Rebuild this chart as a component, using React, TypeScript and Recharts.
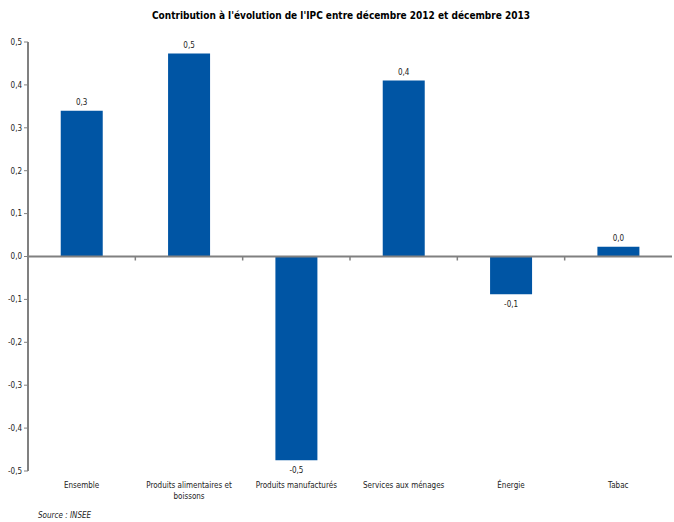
import { BarChart, Bar, XAxis, YAxis, ReferenceLine, LabelList } from "recharts";

const categories = [
  "Ensemble",
  "Produits alimentaires et boissons",
  "Produits manufacturés",
  "Services aux ménages",
  "Énergie",
  "Tabac",
];
const contributions = [0.34, 0.473, -0.475, 0.41, -0.088, 0.023];
const yTicks = [-0.5, -0.4, -0.3, -0.2, -0.1, 0, 0.1, 0.2, 0.3, 0.4, 0.5];

const data = categories.map((name, i) => ({ name, value: contributions[i] }));

const FONT = "'DejaVu Sans Condensed', 'DejaVu Sans', sans-serif";
const fmt = (v: number) => v.toFixed(1).replace(".", ",");

// wrap long category names on the last space before ~24 chars
const splitLabel = (s: string) => {
  if (s.length <= 24) return [s];
  const cut = s.lastIndexOf(" ", 24);
  return [s.slice(0, cut), s.slice(cut + 1)];
};

const CategoryTick = (props: any) => {
  const { x, y, payload } = props;
  const lines = splitLabel(payload.value);
  return (
    <text x={x} y={y} textAnchor="middle" fontSize={8} fontFamily={FONT} fill="#222">
      {lines.map((l, i) => (
        <tspan key={i} x={x} dy={i === 0 ? 9 : 11}>
          {l}
        </tspan>
      ))}
    </text>
  );
};

const BarValue = (props: any) => {
  const { x, y, width, height, value } = props;
  const top = Math.min(y, y + height);
  const bottom = Math.max(y, y + height);
  const ty = value >= 0 ? top - 6 : bottom + 13;
  return (
    <text x={x + width / 2} y={ty} textAnchor="middle" fontSize={8} fontFamily={FONT} fill="#222">
      {fmt(value)}
    </text>
  );
};

// zero line with small category separators below it
const ZeroLine = (props: any) => {
  const { x1, y1, x2 } = props;
  const step = (x2 - x1) / categories.length;
  const marks = [];
  for (let i = 1; i < categories.length; i++) {
    const mx = x1 + step * i;
    marks.push(<line key={i} x1={mx} x2={mx} y1={y1} y2={y1 + 4} stroke="#808080" strokeWidth={1.5} />);
  }
  return (
    <g>
      <line x1={x1} x2={x2} y1={y1} y2={y1} stroke="#808080" strokeWidth={2} />
      {marks}
    </g>
  );
};

export default function App() {
  return (
    <div style={{ position: "absolute", left: 0, top: 0, width: 674, height: 522, background: "#fff" }}>
      <div
        style={{
          position: "absolute",
          top: 10,
          left: 4,
          width: 674,
          textAlign: "center",
          fontFamily: FONT,
          fontWeight: "bold",
          fontSize: 10,
          color: "#000",
        }}
      >
        Contribution à l'évolution de l'IPC entre décembre 2012 et décembre 2013
      </div>
      <BarChart
        width={674}
        height={522}
        data={data}
        margin={{ top: 42, right: 2, bottom: 21, left: 0 }}
        barCategoryGap="30.5%"
      >
        <YAxis
          domain={[-0.5, 0.5]}
          ticks={yTicks}
          width={28}
          tickFormatter={fmt}
          axisLine={{ stroke: "#808080", strokeWidth: 2 }}
          tickLine={{ stroke: "#808080" }}
          tickSize={4}
          tick={{ fontSize: 8, fontFamily: FONT, fill: "#222" }}
          interval={0}
        />
        <XAxis
          dataKey="name"
          height={30}
          axisLine={false}
          tickLine={false}
          interval={0}
          tick={<CategoryTick />}
        />
        <ReferenceLine y={0} shape={<ZeroLine />} />
        <Bar dataKey="value" fill="#0055A4" isAnimationActive={false}>
          <LabelList dataKey="value" content={<BarValue />} />
        </Bar>
      </BarChart>
      <div
        style={{
          position: "absolute",
          left: 38,
          top: 511,
          fontFamily: FONT,
          fontStyle: "italic",
          fontSize: 8,
          color: "#222",
        }}
      >
        Source : INSEE
      </div>
    </div>
  );
}
